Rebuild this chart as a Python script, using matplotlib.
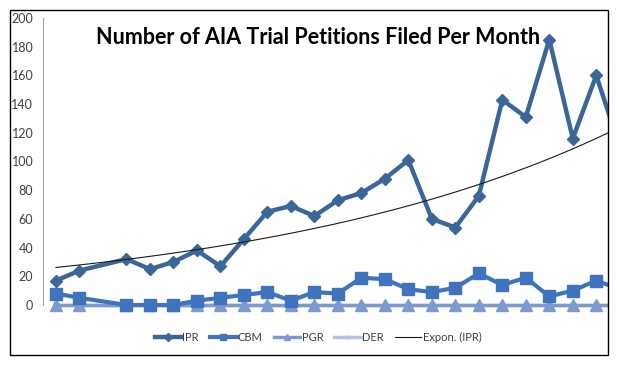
import numpy as np
import matplotlib
matplotlib.use("Agg")
import matplotlib.pyplot as plt
from matplotlib.patches import Rectangle

# monthly petition counts (index 2 is a blank month in the source sheet)
ipr = [17, 24, np.nan, 32, 25, 30, 38, 27, 46, 65, 69, 62, 73, 78, 88, 101,
       60, 54, 76, 143, 131, 185, 116, 160, 110]
cbm = [8, 5, np.nan, 0, 0, 0, 3, 5, 7, 9, 3, 9, 8, 19, 18, 11,
       9, 12, 22, 14, 19, 6, 10, 17, 11]
pgr = [0, 0, np.nan, 0, 0, 0, 0, 0, 0, 0, 0, 0, 0, 0, 0, 0,
       0, 0, 0, 0, 0, 0, 0, 0, 0]
der = [0, 0, np.nan, 0, 0, 0, 0, 0, 0, 0, 0, 0, 0, 0, 0, 0,
       0, 0, 0, 0, 0, 0, 0, 0, 0]
# Excel's exponential trendline at a few category positions
trend_x = [0, 4, 8, 12, 16, 20, 23.5]
trend_y = [26, 34, 44, 57, 74, 96, 119]
yticks = [0, 20, 40, 60, 80, 100, 120, 140, 160, 180, 200]

c_ipr = "#3A6699"
c_cbm = "#3F73BD"
c_pgr = "#7C9AD0"
c_der = "#B7C4E6"

W, H = 617, 365
fig = plt.figure(figsize=(W / 100, H / 100), dpi=100)
plt.rcParams['font.family'] = ['Lato', 'DejaVu Sans']

# axes placed in pixel terms: y-axis at x=43, right edge cut by chart border at 608
ax = fig.add_axes([43 / W, (H - 305) / H, (608 - 43) / W, (305 - 18) / H])
step = 23.49
ax.set_xlim((43 - 56) / step, (608 - 56) / step)
ax.set_ylim(0, 200)

border = Rectangle((10 / W, 10 / H), 598 / W, 345 / H, transform=fig.transFigure,
                   fill=False, edgecolor="black", lw=1.0)
fig.add_artist(border)
clip = Rectangle((10 / W, 10 / H), 598 / W, 345 / H, transform=fig.transFigure)

def series(vals):
    v = np.array(vals, dtype=float)
    x = np.arange(len(v))
    ok = ~np.isnan(v)
    return x[ok], v[ok]

lines = []
x, v = series(der)
lines += ax.plot(x, v, color=c_der, lw=2.5, marker="x", ms=4, mew=1, label="DER", zorder=2)
x, v = series(pgr)
lines += ax.plot(x, v, color=c_pgr, lw=2.5, marker="^", ms=8, label="PGR", zorder=3)
x, v = series(cbm)
lines += ax.plot(x, v, color=c_cbm, lw=3, marker="s", ms=8, label="CBM", zorder=4)
x, v = series(ipr)
lines += ax.plot(x, v, color=c_ipr, lw=3.2, marker="D", ms=6.5, label="IPR", zorder=5)

# smooth exponential through the trendline readings
b, a = np.polyfit(trend_x, np.log(trend_y), 1)
xt = np.linspace(trend_x[0], trend_x[-1], 200)
lines += ax.plot(xt, np.exp(a + b * xt), color="#1a1a1a", lw=0.8, label="Expon. (IPR)", zorder=6)

for ln in lines:
    ln.set_clip_path(clip)

for s in ["top", "right", "bottom"]:
    ax.spines[s].set_visible(False)
ax.spines["left"].set_color("#A6A6A6")
ax.spines["left"].set_linewidth(0.8)
ax.set_xticks([])
ax.set_yticks(yticks)
ax.tick_params(axis="y", length=0, pad=7, labelsize=9, labelcolor="#404040")

fig.text(318 / W, 1 - 37 / H, "Number of AIA Trial Petitions Filed Per Month",
         ha="center", va="center", fontsize=15.5, fontweight="bold", color="black")

handles = [lines[3], lines[2], lines[1], lines[0], lines[4]]
fig.legend(handles=handles, labels=[h.get_label() for h in handles], loc="center",
           bbox_to_anchor=(318 / W, 1 - 337 / H), ncol=5, frameon=False, fontsize=8,
           labelcolor="#404040", handlelength=2.4, handletextpad=0.1, columnspacing=1.0,
           markerscale=0.6)

fig.savefig("out.png", dpi=100)
